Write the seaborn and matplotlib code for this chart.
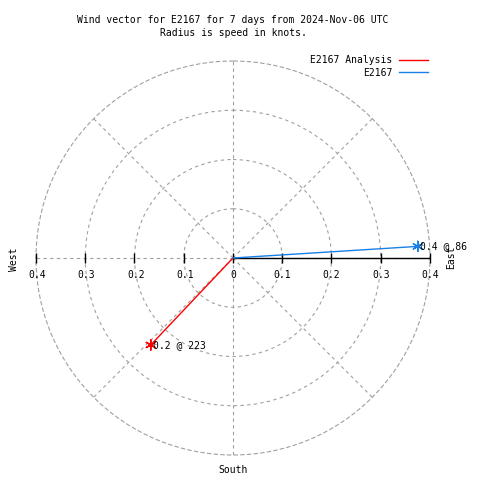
import numpy as np
import pandas as pd
import matplotlib
matplotlib.use("Agg")
import matplotlib.pyplot as plt
import seaborn as sns

# ---- data ----
series_names = ["E2167 Analysis", "E2167"]
speeds = [0.243, 0.376]          # knots
directions = [223.4, 86.4]       # compass degrees
series_colors = ["#ff0000", "#1a7fe6"]
ring_values = [0.1, 0.2, 0.3, 0.4]
east_tick_labels = ["0", "0.1", "0.2", "0.3", "0.4"]
west_tick_labels = ["0.1", "0.2", "0.3", "0.4"]
title_line1 = "Wind vector for E2167 for 7 days from 2024-Nov-06 UTC"
title_line2 = "Radius is speed in knots."

FONT = "DejaVu Sans Mono"
FS = 7
GRID_COLOR = "#a0a0a0"
GRID_LS = (0, (3, 3))

rows = []
for name, s, d in zip(series_names, speeds, directions):
    th = np.deg2rad(d)
    rows.append({"series": name, "theta": th, "r": 0.0, "order": 0})
    rows.append({"series": name, "theta": th, "r": s, "order": 1})
df = pd.DataFrame(rows)
ends = df[df["order"] == 1]

fig = plt.figure(figsize=(4.8, 4.8), dpi=100)
ax = fig.add_axes([0.075, 0.0521, 0.8208, 0.8208], projection="polar")
ax.set_theta_zero_location("N")
ax.set_theta_direction(-1)
ax.set_rlim(0, 0.4)
ax.set_rticks(ring_values[:-1])
ax.set_yticklabels([])
ax.set_xticks(np.deg2rad(np.arange(0, 360, 45)))
ax.set_xticklabels([])
ax.tick_params(length=0)
ax.spines["polar"].set_color(GRID_COLOR)
ax.spines["polar"].set_linestyle(GRID_LS)
ax.spines["polar"].set_linewidth(0.8)
ax.grid(True, color=GRID_COLOR, linestyle=GRID_LS, linewidth=0.8)
ax.set_facecolor("white")

palette = dict(zip(series_names, series_colors))

# east axis solid line with ticks
east = np.deg2rad(90)
west = np.deg2rad(270)
ax.plot([east, east], [0, 0.4], color="black", lw=1, zorder=3)
ax.plot([east] * 5, [0] + ring_values, linestyle="none", marker="|",
        markersize=7.5, color="black", mew=1, zorder=3, clip_on=False)
ax.plot([west] * 4, ring_values, linestyle="none", marker="|",
        markersize=7.5, color="black", mew=1, zorder=3, clip_on=False)

for v, lab in zip([0] + ring_values, east_tick_labels):
    ax.annotate(lab, (east, v), xytext=(0, -12), textcoords="offset points",
                ha="center", va="center", fontsize=FS, family=FONT)
for v, lab in zip(ring_values, west_tick_labels):
    ax.annotate(lab, (west, v), xytext=(1, -12), textcoords="offset points",
                ha="center", va="center", fontsize=FS, family=FONT)

sns.lineplot(data=df, x="theta", y="r", hue="series", palette=palette,
             estimator=None, sort=False, units="series", lw=1, ax=ax,
             zorder=4)
sns.scatterplot(data=ends, x="theta", y="r", hue="series", palette=palette,
                marker=(6, 2, 0), s=55, linewidth=1, ax=ax, legend=False,
                zorder=5)

for _, row in ends.iterrows():
    d = np.rad2deg(row["theta"])
    ax.annotate(f"{row['r']:.1f} @ {int(d)}", (row["theta"], row["r"]),
                xytext=(1.5, 0), textcoords="offset points", ha="left",
                va="center", fontsize=FS, family=FONT, zorder=6)

ax.set_xlabel("")
ax.set_ylabel("")

handles, labels = ax.get_legend_handles_labels()
ax.legend(handles, labels, loc="upper right", bbox_to_anchor=(0.892, 0.885),
          bbox_transform=fig.transFigure, frameon=False, markerfirst=False,
          handlelength=3.0, handletextpad=0.7, labelspacing=0.25,
          borderpad=0, borderaxespad=0, prop={"family": FONT, "size": FS})

fig.text(233 / 480, 1 - 20 / 480, title_line1, ha="center", va="center",
         fontsize=FS, family=FONT)
fig.text(233 / 480, 1 - 33 / 480, title_line2, ha="center", va="center",
         fontsize=FS, family=FONT)
fig.text(14 / 480, 1 - 259 / 480, "West", rotation=90, ha="center",
         va="center", fontsize=FS, family=FONT)
fig.text(451 / 480, 1 - 257 / 480, "East", rotation=90, ha="center",
         va="center", fontsize=FS, family=FONT)
fig.text(233 / 480, 1 - 470 / 480, "South", ha="center", va="center",
         fontsize=FS, family=FONT)

fig.savefig("out.png", dpi=100, facecolor="white")
